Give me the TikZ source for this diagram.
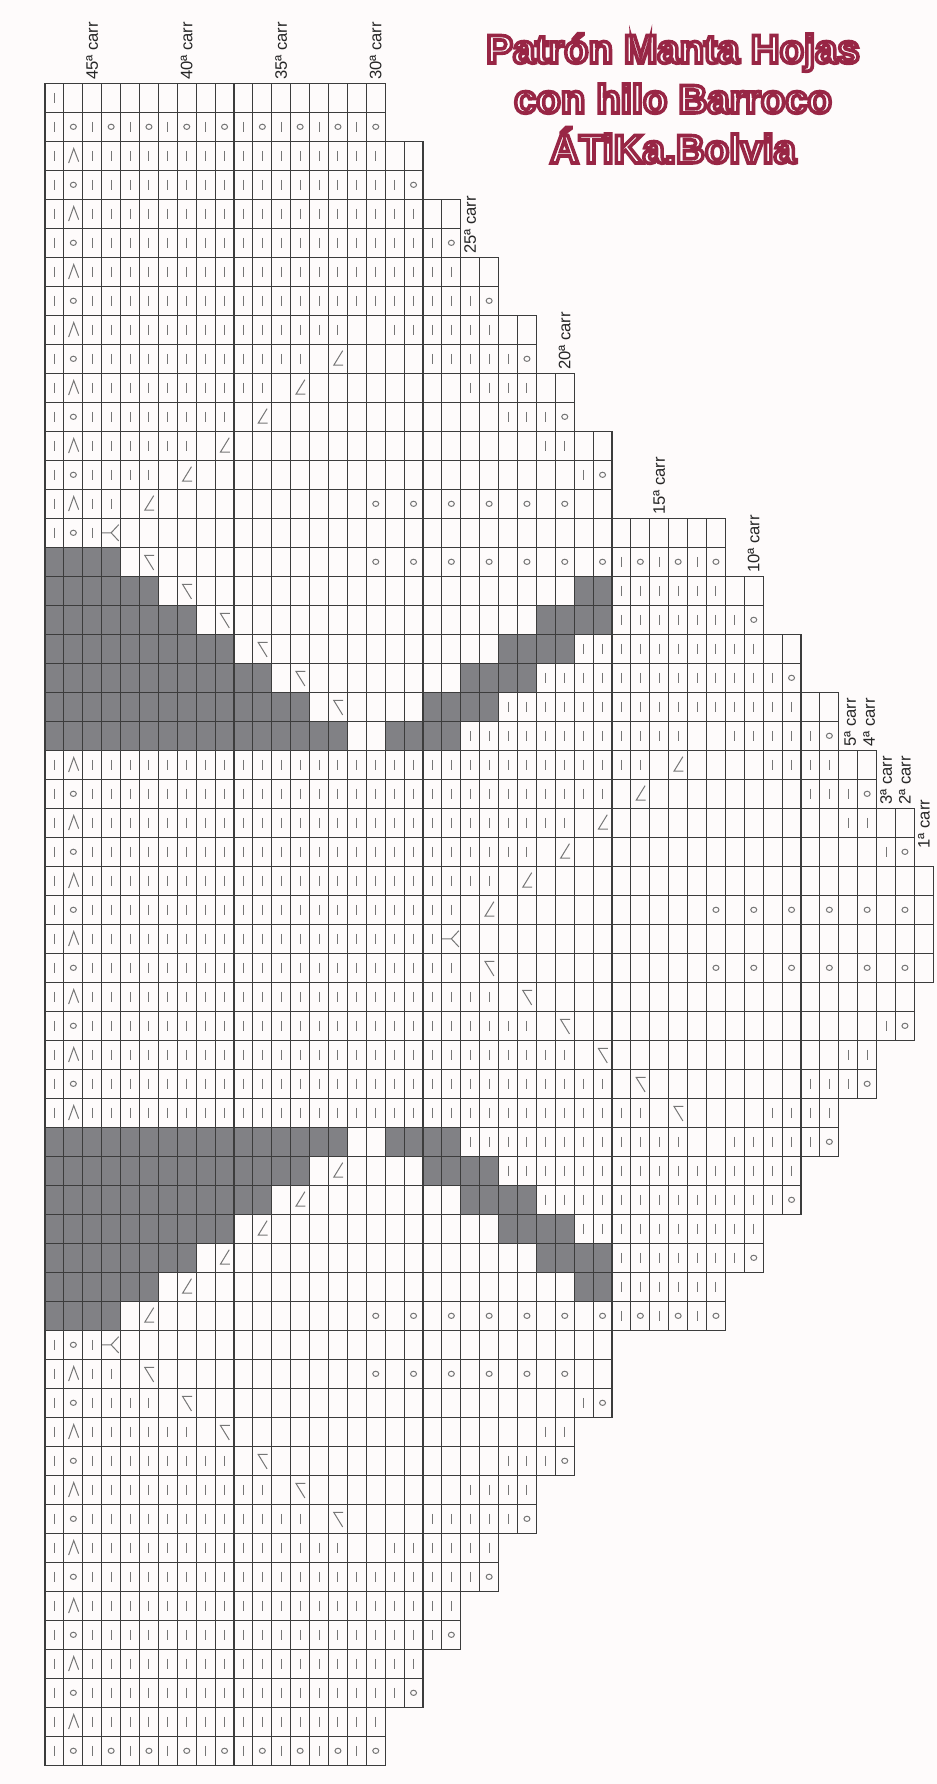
\documentclass[tikz,border=0pt]{standalone}
\usepackage{fontspec}
\setmainfont{Liberation Sans}
\newfontfamily\titlefont{Liberation Sans}[FakeBold=9]
\definecolor{paper}{HTML}{FEFBFB}
\definecolor{darkcell}{HTML}{818185}
\definecolor{gridline}{HTML}{3C3C3C}
\definecolor{ink}{HTML}{767676}
\definecolor{titlered}{HTML}{982645}

% white inside of the outlined title letters
\newcommand\whitefill{\special{pdf:literal direct 1 1 1 rg}}

% one row of the chart: from/to/symbol
% k knit, o yarn over, q knit+yo, p yo on odd cells, a/b/c decreases, y triple, d shaded
\newcommand\chartrow[2]{\expandafter\def\csname segs@#1\endcsname{#2}}
\chartrow{0}{0/0/k}
\chartrow{1}{0/17/q}
\chartrow{2}{0/0/k,1/1/a,2/17/k}
\chartrow{3}{0/0/k,1/1/o,2/18/k,19/19/o}
\chartrow{4}{0/0/k,1/1/a,2/19/k}
\chartrow{5}{0/0/k,1/1/o,2/20/k,21/21/o}
\chartrow{6}{0/0/k,1/1/a,2/21/k}
\chartrow{7}{0/0/k,1/1/o,2/22/k,23/23/o}
\chartrow{8}{0/0/k,1/1/a,2/15/k,18/23/k}
\chartrow{9}{0/0/k,1/1/o,2/13/k,15/15/b,20/24/k,25/25/o}
\chartrow{10}{0/0/k,1/1/a,2/11/k,13/13/b,22/25/k}
\chartrow{11}{0/0/k,1/1/o,2/9/k,11/11/b,24/26/k,27/27/o}
\chartrow{12}{0/0/k,1/1/a,2/7/k,9/9/b,26/27/k}
\chartrow{13}{0/0/k,1/1/o,2/5/k,7/7/b,28/28/k,29/29/o}
\chartrow{14}{0/0/k,1/1/a,2/3/k,5/5/b,17/27/p}
\chartrow{15}{0/0/k,1/1/o,2/2/k,3/3/y}
\chartrow{16}{0/3/d,5/5/c,17/29/p,30/35/q}
\chartrow{17}{0/5/d,7/7/c,28/29/d,30/35/k}
\chartrow{18}{0/7/d,9/9/c,26/29/d,30/36/k,37/37/o}
\chartrow{19}{0/9/d,11/11/c,24/27/d,28/37/k}
\chartrow{20}{0/11/d,13/13/c,22/25/d,26/38/k,39/39/o}
\chartrow{21}{0/13/d,15/15/c,20/23/d,24/39/k}
\chartrow{22}{0/15/d,18/21/d,22/33/k,36/40/k,41/41/o}
\chartrow{23}{0/0/k,1/1/a,2/31/k,33/33/b,38/41/k}
\chartrow{24}{0/0/k,1/1/o,2/29/k,31/31/b,40/42/k,43/43/o}
\chartrow{25}{0/0/k,1/1/a,2/27/k,29/29/b,42/43/k}
\chartrow{26}{0/0/k,1/1/o,2/25/k,27/27/b,44/44/k,45/45/o}
\chartrow{27}{0/0/k,1/1/a,2/23/k,25/25/b}
\chartrow{28}{0/0/k,1/1/o,2/21/k,23/23/b,35/45/p}
\chartrow{29}{0/0/k,1/1/a,2/20/k,21/21/y}

% stitch symbols, drawn in cell (#1,#2)
\newcommand\stitchk[2]{\draw[glyph] (#1+.5,#2+.33) -- (#1+.5,#2+.67);}
\newcommand\stitcho[2]{\draw[glyph] (#1+.5,#2+.5) ellipse [x radius=1.5pt, y radius=1.3pt];}
\newcommand\stitchq[2]{\ifodd#1\relax\stitcho{#1}{#2}\else\stitchk{#1}{#2}\fi}
\newcommand\stitchp[2]{\ifodd#1\relax\stitcho{#1}{#2}\fi}
\newcommand\stitchd[2]{\fill[darkcell] (#1,#2) rectangle ++(1,1);}
\newcommand\stitcha[2]{\pic at (#1+.5,#2+.5) {adec};}
\newcommand\stitchb[2]{\pic[yscale=\flip] at (#1+.5,#2+.5) {bdec};}
\newcommand\stitchc[2]{\pic[yscale=\flip] at (#1+.5,#2+.5) {cdec};}
\newcommand\stitchy[2]{\pic at (#1+.5,#2+.5) {ydec};}

\begin{document}
\begin{tikzpicture}[
    x=0.5pt, y=-0.5pt,
    cell/.style={draw=gridline, line width=0.55pt},
    glyph/.style={draw=ink, line width=0.5pt},
    lbl/.style={
        rotate=90,
        anchor=west,
        inner sep=1.5pt,
        text=black!85,
        font=\fontsize{8.3}{9}\selectfont
    },
    title/.style={
        anchor=base,
        inner sep=0pt,
        text=titlered,
        font=\titlefont\bfseries\fontsize{20}{25}\selectfont
    },
    adec/.pic={\draw[glyph] (-.25,.25) -- (.02,-.25) -- (.28,.2);},
    bdec/.pic={\draw[glyph] (.25,-.28) -- (-.22,.22) -- (.28,.22);},
    cdec/.pic={\draw[glyph] (.25,.28) -- (-.22,-.22) -- (.28,-.22);},
    ydec/.pic={\draw[glyph] (-.5,0) -- (0,0) -- (.4,-.28) (0,0) -- (.4,.28);}
]

% Page
\fill[paper] (0,0) rectangle (937,1784);

% Title
\node[title] (title1) at (673,63) {\whitefill Patrón Manta Hojas};
\node[title] (title2) at (673,113) {\whitefill con hilo Barroco};
\node[title] (title3) at (673,163) {\whitefill ÁTiKa.Bolvia};

% Chart, one cell per stitch, rows mirrored below row 29
\begin{scope}[shift={(45,83.3)}, x=9.45pt, y=-14.5pt]
\foreach \row/\last in {0/17,1/17,2/19,3/19,4/21,5/21,6/23,7/23,8/25,9/25,10/27,11/27,12/29,13/29,14/29,15/35,16/35,17/37,18/37,19/39,20/39,21/41,22/41,23/43,24/43,25/45,26/45,27/46,28/46,29/46,30/46,31/45,32/45,33/43,34/43,35/41,36/41,37/39,38/39,39/37,40/37,41/35,42/35,43/29,44/29,45/29,46/27,47/27,48/25,49/25,50/23,51/23,52/21,53/21,54/19,55/19,56/17,57/17} {
    \pgfmathtruncatemacro\src{\row>29 ? 58-\row : \row}
    \pgfmathtruncatemacro\flip{\row>29 ? -1 : 1}
    \expandafter\let\expandafter\segs\csname segs@\src\endcsname
    \foreach \cfrom/\cto/\sym in \segs {
        \foreach \col in {\cfrom,...,\cto} {\csname stitch\sym\endcsname{\col}{\row}}
    }
    \foreach \col in {0,...,\last} {\draw[cell] (\col,\row) rectangle ++(1,1);}
}

% Row labels
\node[lbl] (carr45) at (2.5,0) {45ª carr};
\node[lbl] (carr40) at (7.5,0) {40ª carr};
\node[lbl] (carr35) at (12.5,0) {35ª carr};
\node[lbl] (carr30) at (17.5,0) {30ª carr};
\node[lbl] (carr25) at (22.5,6) {25ª carr};
\node[lbl] (carr20) at (27.5,10) {20ª carr};
\node[lbl] (carr15) at (32.5,15) {15ª carr};
\node[lbl] (carr10) at (37.5,17) {10ª carr};
\node[lbl] (carr5) at (42.6,23) {5ª carr};
\node[lbl] (carr4) at (43.6,23) {4ª carr};
\node[lbl] (carr3) at (44.5,25) {3ª carr};
\node[lbl] (carr2) at (45.5,25) {2ª carr};
\node[lbl] (carr1) at (46.5,26.5) {1ª carr};
\end{scope}

\end{tikzpicture}
\end{document}
